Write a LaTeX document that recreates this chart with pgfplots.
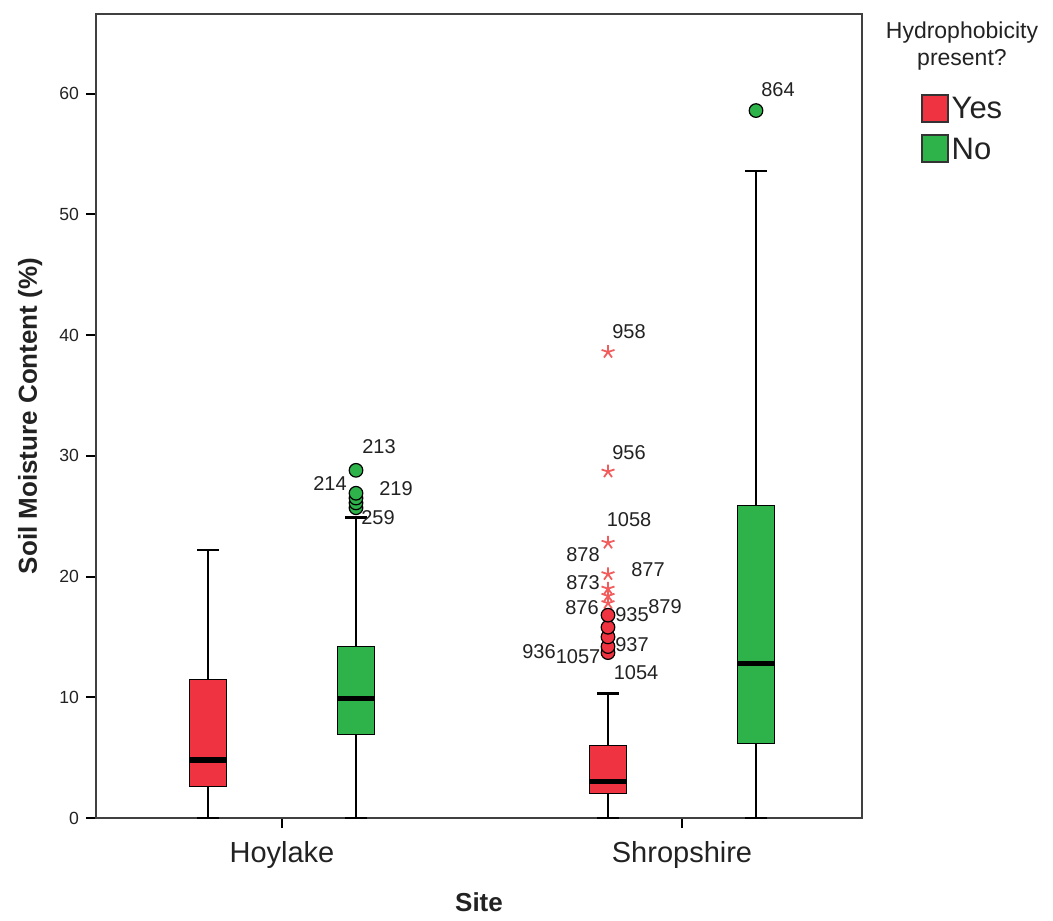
\documentclass[border=0pt]{standalone}
\usepackage{fontspec}
\setmainfont{Liberation Sans}
\usepackage{pgfplots}
\pgfplotsset{compat=1.18}
\usepgfplotslibrary{statistics}
\usetikzlibrary{calc}
\definecolor{myred}{HTML}{EF3340}
\definecolor{mygreen}{HTML}{2DB34A}
\definecolor{starred}{HTML}{F25C5C}
\definecolor{txt}{HTML}{222222}
\begin{document}
\begin{tikzpicture}
\begin{axis}[name=ax, scale only axis, width=383pt, height=402pt,
 xmin=0.535, xmax=2.45, ymin=0, ymax=66.6,
 xtick={1,2}, xticklabels={Hoylake,Shropshire},
 ytick={0,10,...,60},
 tick align=outside, tick pos=left,
 major tick length=5pt,
 xticklabel style={font=\fontsize{14.5}{16}\selectfont, text=txt, yshift=-3pt},
 yticklabel style={font=\fontsize{8.8}{10}\selectfont, text=txt},
 /pgf/number format/assume math mode=true,
 axis line style={black!75, line width=1pt},
 tick style={black, line width=1pt},
 xlabel={Site}, ylabel={Soil Moisture Content (\%)},
 label style={font=\bfseries\fontsize{13}{15}\selectfont, text=txt},
 xlabel style={at={(rel axis cs:0.5,-0.105)}, anchor=center},
 ylabel style={at={(rel axis cs:-0.086,0.5)}, anchor=center},
 clip=false,
 boxplot/draw direction=y,
 boxplot/every box/.style={draw=black, line width=0.6pt},
 boxplot/every whisker/.style={black, line width=1.4pt},
 boxplot/every median/.style={black, line width=2.6pt},
]
% Hoylake Yes
\addplot[fill=myred, draw=black, boxplot prepared={draw position=0.815, lower whisker=0, lower quartile=2.6, median=4.8, upper quartile=11.5, upper whisker=22.2, box extend=0.0925, whisker extend=0.055}] coordinates {};
% Hoylake No
\addplot[fill=mygreen, draw=black, boxplot prepared={draw position=1.185, lower whisker=0, lower quartile=6.9, median=9.9, upper quartile=14.2, upper whisker=24.9, box extend=0.0925, whisker extend=0.055}] coordinates {};
% Shropshire Yes
\addplot[fill=myred, draw=black, boxplot prepared={draw position=1.815, lower whisker=0, lower quartile=2.0, median=3.0, upper quartile=6.0, upper whisker=10.3, box extend=0.0925, whisker extend=0.055}] coordinates {};
% Shropshire No
\addplot[fill=mygreen, draw=black, boxplot prepared={draw position=2.185, lower whisker=0, lower quartile=6.2, median=12.8, upper quartile=25.9, upper whisker=53.6, box extend=0.0925, whisker extend=0.055}] coordinates {};
% outliers
\addplot[only marks, mark=*, mark size=3.4pt, mark options={fill=mygreen, draw=black, line width=0.6pt}] coordinates {(1.185,25.7)(1.185,26.1)(1.185,26.5)(1.185,26.9)(1.185,28.8)(2.185,58.6)};
\addplot[only marks, mark=star, mark size=3.4pt, mark options={draw=starred, line width=0.9pt}] coordinates {(1.815,38.6)(1.815,28.7)(1.815,22.8)(1.815,20.2)(1.815,19.0)(1.815,18.4)(1.815,17.8)};
\addplot[only marks, mark=*, mark size=3.4pt, mark options={fill=myred, draw=black, line width=0.6pt}] coordinates {(1.815,13.7)(1.815,14.2)(1.815,15.0)(1.815,15.8)(1.815,16.8)};
% labels
\begin{scope}[every node/.style={font=\fontsize{10}{11}\selectfont, text=txt, inner sep=0pt}]
\node at (axis cs:1.2425,30.74) {213};
\node at (axis cs:1.12,27.68) {214};
\node at (axis cs:1.285,27.26) {219};
\node at (axis cs:1.24,24.86) {259};
\node at (axis cs:1.8675,40.27) {958};
\node at (axis cs:1.8675,30.25) {956};
\node at (axis cs:1.8675,24.70) {1058};
\node at (axis cs:1.7525,21.79) {878};
\node at (axis cs:1.915,20.55) {877};
\node at (axis cs:1.7525,19.47) {873};
\node at (axis cs:1.75,17.40) {876};
\node at (axis cs:1.875,16.82) {935};
\node at (axis cs:1.9575,17.49) {879};
\node at (axis cs:1.6425,13.76) {936};
\node at (axis cs:1.74,13.34) {1057};
\node at (axis cs:1.875,14.34) {937};
\node at (axis cs:1.885,12.02) {1054};
\node at (axis cs:2.24,60.33) {864};
\end{scope}
% legend
\node[align=center, font=\fontsize{11.5}{13.5}\selectfont, text=txt] at (rel axis cs:1.1305,0.9602) {Hydrophobicity\\present?};
\filldraw[fill=myred, draw=black!80, line width=0.6pt] (rel axis cs:1.0783,0.8657) rectangle (rel axis cs:1.1123,0.8993);
\filldraw[fill=mygreen, draw=black!80, line width=0.6pt] (rel axis cs:1.0783,0.8159) rectangle (rel axis cs:1.1123,0.8495);
\node[anchor=west, inner sep=0pt, font=\fontsize{15.5}{17}\selectfont, text=txt] at (rel axis cs:1.1165,0.8825) {Yes};
\node[anchor=west, inner sep=0pt, font=\fontsize{15.5}{17}\selectfont, text=txt] at (rel axis cs:1.1165,0.8327) {No};
\end{axis}
\pgfresetboundingbox
\path[use as bounding box] ($(ax.south west)+(-48pt,-51pt)$) rectangle ($(ax.north east)+(95.5pt,7pt)$);
\end{tikzpicture}
\end{document}
